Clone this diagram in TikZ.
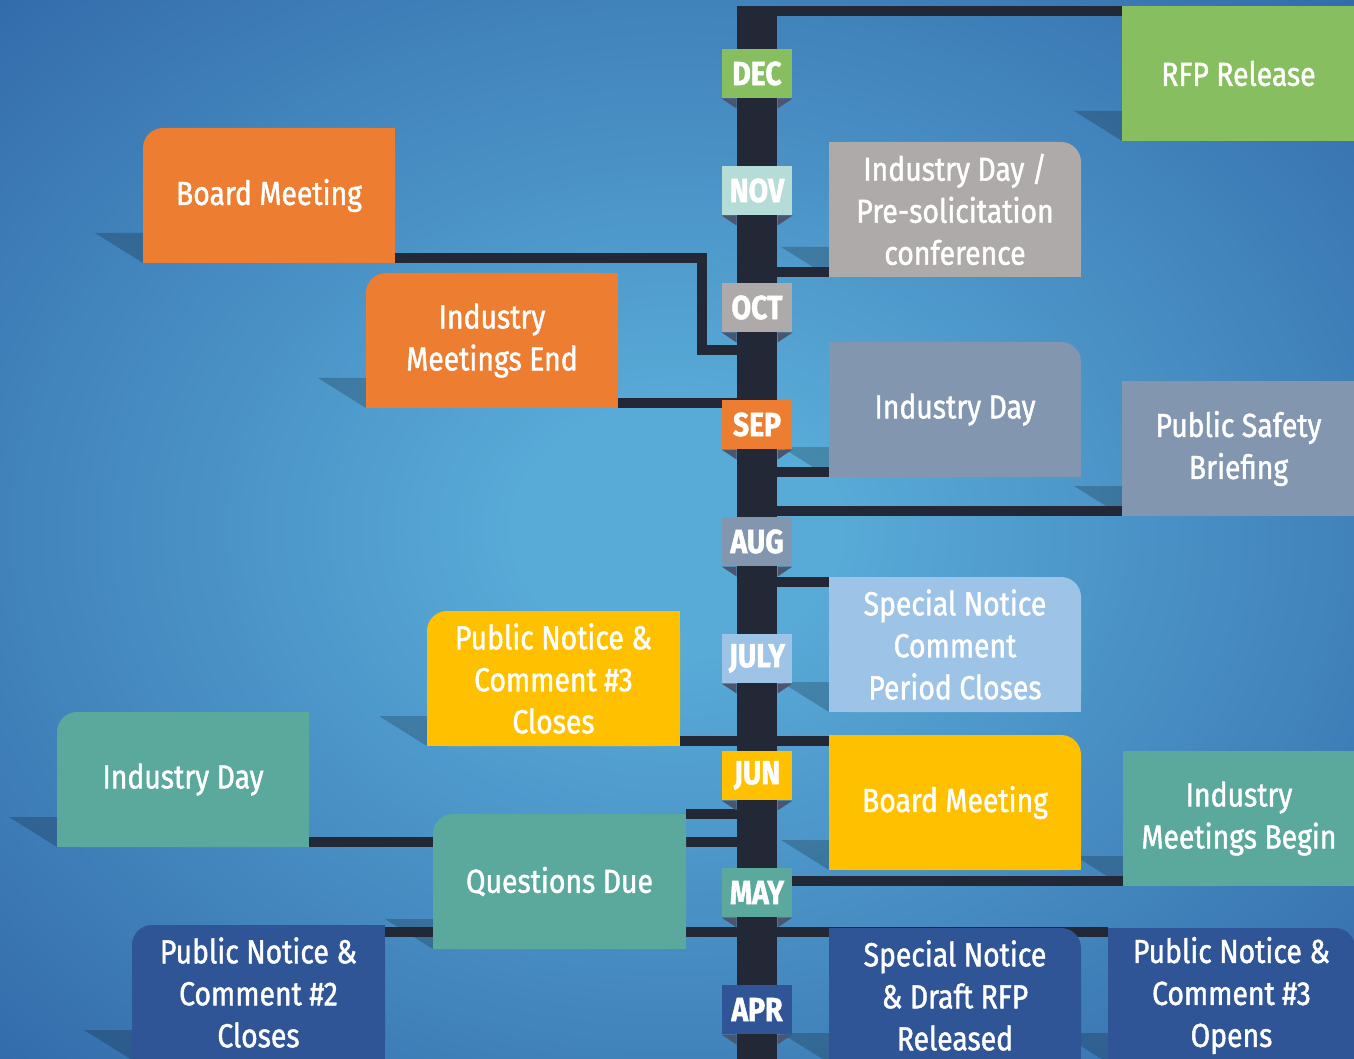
\documentclass[tikz,border=0pt]{standalone}
\usepackage{fontspec}
\usetikzlibrary{positioning}
\newfontfamily\evfont[FakeStretch=0.85,FakeBold=1.3]{Fira Sans}

\definecolor{bgin}{RGB}{88,170,215}
\definecolor{bgout}{RGB}{46,98,164}
\definecolor{spinec}{RGB}{34,40,53}
\definecolor{foldc}{RGB}{74,85,112}
\definecolor{cOrange}{RGB}{237,125,49}
\definecolor{cGreen}{RGB}{135,190,95}
\definecolor{cGray}{RGB}{173,170,169}
\definecolor{cMint}{RGB}{181,220,214}
\definecolor{cSlate}{RGB}{131,150,176}
\definecolor{cSky}{RGB}{157,195,230}
\definecolor{cYellow}{RGB}{255,192,0}
\definecolor{cTeal}{RGB}{91,168,156}
\definecolor{cNavy}{RGB}{47,85,151}

\pgfdeclareradialshading{bgshade}{\pgfpoint{0bp}{0bp}}{color(0bp)=(bgin); color(6bp)=(bgin); color(40bp)=(bgout); color(50bp)=(bgout)}

\pgfdeclarelayer{bg}
\pgfdeclarelayer{lines}
\pgfdeclarelayer{boxes}
\pgfsetlayers{bg,lines,boxes,main}

% box fills with one round corner
\newcommand{\tlbox}[2]{%
  \fill[#2,rounded corners=15pt] (#1.north west) rectangle (#1.south east);
  \fill[#2] (#1.north east) rectangle (#1.south);
  \fill[#2] (#1.south west) rectangle (#1.east);}
\newcommand{\trbox}[2]{%
  \fill[#2,rounded corners=15pt] (#1.north west) rectangle (#1.south east);
  \fill[#2] (#1.north west) rectangle (#1.south);
  \fill[#2] (#1.west) rectangle (#1.south east);}
\newcommand{\sqbox}[2]{%
  \fill[#2] (#1.north west) rectangle (#1.south east);}
\newcommand{\dropshadow}[1]{%
  \fill[boxshadow] (#1.south west) -- ++(0,-30) -- ++(-48,0) -- cycle;}

\tikzset{every picture/.style={line width=0.75pt}}

\begin{document}
\begin{tikzpicture}[x=0.75pt,y=0.75pt,yscale=-1,xscale=1,
    evbox/.style={text=white, align=center, inner sep=0pt, anchor=north west, minimum width=188.25pt, minimum height=100.5pt, font=\evfont\fontsize{25}{31.5}\selectfont},
    month/.style={text=white, inner sep=0pt, minimum width=52.5pt, minimum height=36.75pt, font=\evfont\bfseries\fontsize{25}{27}\selectfont},
    link/.style={draw=spinec, line width=7.5pt},
    fold/.style={fill=foldc},
    boxshadow/.style={fill=black, fill opacity=0.2}]
    \useasboundingbox (0,0) rectangle (1354,1059);

    % Text Node
    \node[evbox, minimum width=174pt] (rfp) at (1122,6) {RFP Release};
    % Text Node
    \node[evbox] (pre) at (829,142) {Industry Day /\\Pre-solicitation\\conference};
    % Text Node
    \node[evbox] (bmA) at (143,128) {Board Meeting};
    % Text Node
    \node[evbox] (imEnd) at (366,273) {Industry\\Meetings End};
    % Text Node
    \node[evbox] (idS) at (829,342) {Industry Day};
    % Text Node
    \node[evbox, minimum width=174pt] (psb) at (1122,381) {Public Safety\\Briefing};
    % Text Node
    \node[evbox] (sncp) at (829,577) {Special Notice\\Comment\\Period Closes};
    % Text Node
    \node[evbox, minimum width=189pt] (pn3c) at (427,611) {Public Notice \&\\Comment \#3\\Closes};
    % Text Node
    \node[evbox] (bmB) at (829,735) {Board Meeting};
    % Text Node
    \node[evbox, minimum width=173.25pt] (imBeg) at (1123,751) {Industry\\Meetings Begin};
    % Text Node
    \node[evbox] (idT) at (57,712) {Industry Day};
    % Text Node
    \node[evbox, minimum width=189pt] (qd) at (433,814) {Questions Due};
    % Text Node
    \node[evbox, minimum width=189pt] (pn2) at (132,925) {Public Notice \&\\Comment \#2\\Closes};
    % Text Node
    \node[evbox] (sndr) at (829,928) {Special Notice\\\& Draft RFP\\Released};
    % Text Node
    \node[evbox, minimum width=184.5pt] (pn3o) at (1108,928) {Public Notice \&\\Comment \#3\\Opens};

    % month tags
    \foreach \mname/\my/\mcol [count=\i] in {DEC/73.5/cGreen, NOV/190.5/cMint, OCT/307.5/cGray, SEP/424.5/cOrange, AUG/541.5/cSlate, JULY/658.5/cSky, JUN/775.5/cYellow, MAY/892.5/cTeal, APR/1009.5/cNavy} {
      \node[month, fill=\mcol] (m\i) at (757,\my) {\mname};
      \fill[fold] (m\i.south west) -- ++(15,0) -- ++(0,10) -- cycle;
      \fill[fold] (m\i.south east) -- ++(-15,0) -- ++(0,10) -- cycle;
    }

    \begin{pgfonlayer}{bg}
    \shade[shading=bgshade] (0,0) rectangle (1354,1059);
    \foreach \b in {rfp,pre,bmA,imEnd,idS,psb,sncp,pn3c,bmB,imBeg,idT,qd,pn2,sndr,pn3o} {\dropshadow{\b}}
    \end{pgfonlayer}

    \begin{pgfonlayer}{lines}
    \node[fill=spinec, inner sep=0pt, minimum width=30pt, minimum height=789.75pt] (spine) at (757,532.5) {};
    %Straight Lines
    \draw[link] (rfp.north west) ++(0,5) coordinate (p) -- (spine |- p);
    \draw[link] (pre.south west) ++(0,-5) coordinate (p) -- (spine |- p);
    \draw[link] (bmA.south east) ++(0,-5) -- ++(307,0) -- ++(0,92) coordinate (p) -- (spine |- p);
    \draw[link] (imEnd.south east) ++(0,-5) coordinate (p) -- (spine |- p);
    \draw[link] (idS.south west) ++(0,-5) coordinate (p) -- (spine |- p);
    \draw[link] (psb.south west) ++(0,-5) coordinate (p) -- (spine |- p);
    \draw[link] (sncp.north west) ++(0,5) coordinate (p) -- (spine |- p);
    \draw[link] (pn3c.south east) ++(0,-5) coordinate (p) -- (bmB.west |- p);
    \draw[link] (imBeg.south west) ++(0,-5) coordinate (p) -- (spine |- p);
    \draw[link] (idT.south east) ++(0,-5) coordinate (p) -- (spine |- p);
    \draw[link] (qd.north east) coordinate (p) -- (spine |- p);
    \draw[link] (pn2.north east) ++(0,7) coordinate (p) -- (pn3o.west |- p);
    \end{pgfonlayer}

    \begin{pgfonlayer}{boxes}
    \sqbox{rfp}{cGreen}
    \trbox{pre}{cGray}
    \tlbox{bmA}{cOrange}
    \tlbox{imEnd}{cOrange}
    \trbox{idS}{cSlate}
    \sqbox{psb}{cSlate}
    \trbox{sncp}{cSky}
    \tlbox{pn3c}{cYellow}
    \trbox{bmB}{cYellow}
    \sqbox{imBeg}{cTeal}
    \tlbox{idT}{cTeal}
    \tlbox{qd}{cTeal}
    \tlbox{pn2}{cNavy}
    \trbox{sndr}{cNavy}
    \trbox{pn3o}{cNavy}
    \end{pgfonlayer}

\end{tikzpicture}
\end{document}
